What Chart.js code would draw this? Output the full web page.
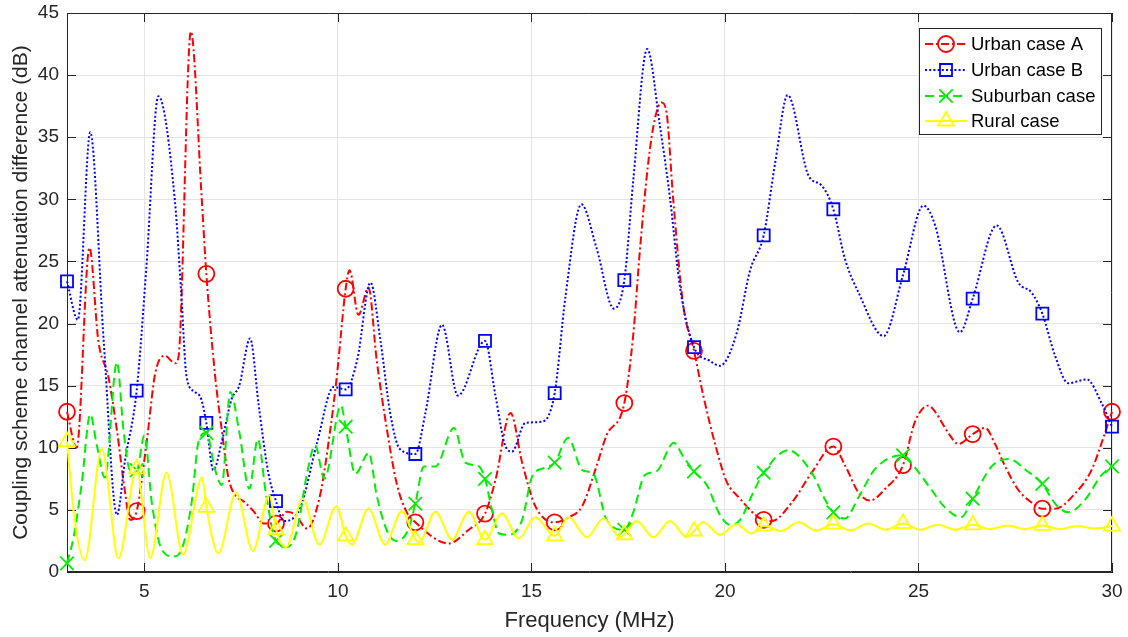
<!DOCTYPE html>
<html><head><meta charset="utf-8">
<script src="https://cdn.jsdelivr.net/npm/chart.js@4.4.1/dist/chart.umd.min.js"></script>
<style>html,body{margin:0;padding:0;background:#fff;}#wrap{width:1128px;height:637px;position:relative;}</style>
</head><body><div id="wrap"><canvas id="c" width="1128" height="637"></canvas></div>
<script>
const markerFreqs = [3,4.8,6.6,8.4,10.2,12,13.8,15.6,17.4,19.2,21,22.8,24.6,26.4,28.2,30];
const xTickLabels = [5,10,15,20,25,30];
const yTickLabels = [0,5,10,15,20,25,30,35,40,45];
const seriesNames = ['Urban case A','Urban case B','Suburban case','Rural case'];

const freqUrbanA = [3,3.25,3.58,3.81,4.07,4.29,4.5,4.63,4.8,5.06,5.28,5.53,5.79,5.88,6.2,6.48,6.6,6.83,7,7.17,7.34,7.56,7.82,8.08,8.4,8.68,8.9,9.2,9.54,9.8,9.97,10.2,10.3,10.53,10.79,11,11.27,11.52,11.78,12,12.86,13.38,13.8,14.07,14.46,14.76,15.1,15.6,15.96,16.31,16.68,16.94,17.4,17.63,17.8,18.02,18.19,18.36,18.49,18.66,18.92,19.2,19.44,19.78,20.04,20.39,20.82,21,21.21,21.73,22.24,22.8,23.1,23.45,23.75,24.14,24.6,24.91,25.26,25.43,25.77,26.03,26.4,26.72,26.98,27.24,27.58,27.92,28.2,28.53,29.04,29.47,29.82,30];
const valUrbanA = [12.9,10,26.1,18.6,15.7,11.4,6.4,4.2,4.9,10.5,16,17.4,16.8,17.3,43.5,30.1,24,15.7,11.4,7.6,6.2,5.7,4.9,3.9,3.9,4.85,4.6,3.5,6.2,11.4,15.7,22.8,24.3,20.7,22.9,17.1,11.4,7.1,4.8,4,2.3,3.4,4.7,7.4,12.8,8.8,5.3,4,4.4,5.3,8.5,11,13.6,19.1,25.8,33,36.5,37.8,37,30.1,21.5,17.8,14.2,9.9,7.3,5.9,4.5,4.2,4.1,5.6,8,10.1,8.6,6.4,5.75,6.7,8.6,12.1,13.4,12.9,11.2,10.3,11.1,11.6,10.3,8.5,6.6,5.6,5.1,5.1,6.3,8.2,11.2,12.9];

const freqUrbanB = [3,3.28,3.6,3.95,4.29,4.5,4.8,5.05,5.36,5.79,5.95,6.09,6.3,6.47,6.6,6.78,7,7.25,7.45,7.73,7.95,8.2,8.4,8.6,9.03,9.46,9.89,10.2,10.5,10.84,11.1,11.35,11.6,12,12.26,12.69,13.1,13.8,14.07,14.33,14.5,14.84,15.28,15.6,15.88,16.29,16.68,17.13,17.4,17.63,17.99,18.32,18.58,18.84,19.2,19.61,19.87,20.3,20.65,21,21.3,21.62,22.16,22.5,22.8,23.1,23.45,24.1,24.6,25.13,25.43,26.07,26.4,27.02,27.58,27.92,28.2,28.53,28.87,29.35,29.73,30];
const valUrbanB = [23.4,20.3,35.4,18.5,4.6,9,14.6,24.5,38.3,29.8,22.5,15.7,14.5,13.9,12,8.2,10.5,13.9,15,18.8,13.5,8,5.7,4.1,5.2,10.4,14.9,14.7,17.1,23.3,18.6,12.8,9.9,9.5,12.8,19.9,14.2,18.6,14.2,10.1,9.7,12,12.1,14.4,22.2,29.6,26.1,21.2,23.5,31.5,42.1,35.9,30.1,22.9,18.1,17,16.6,19.2,24.3,27.1,33,38.4,31.9,31.1,29.2,25.2,22.5,19,23.9,29.5,27.9,19.3,22,27.9,23.3,22.5,20.8,17.4,15.2,15.5,13.6,11.7];

const freqSuburban = [3,3.17,3.38,3.6,3.77,3.98,4.29,4.46,4.63,4.8,5,5.19,5.45,5.75,5.96,6.22,6.4,6.6,6.83,7,7.22,7.45,7.71,7.93,8.14,8.4,8.68,8.94,9.2,9.41,9.65,10.08,10.2,10.45,10.8,11,11.27,11.5,11.8,12,12.22,12.52,13,13.29,13.64,13.8,13.98,14.16,14.41,14.76,15.02,15.36,15.6,15.95,16.31,16.6,16.94,17.4,17.63,17.93,18.23,18.68,18.92,19.2,19.53,19.87,20.13,20.39,20.73,21,21.64,22.24,22.59,22.8,23.1,23.45,23.88,24.6,24.91,25.34,25.68,26.1,26.4,26.89,27.32,27.84,28.2,28.53,28.87,29.3,29.73,30];
const valSuburban = [0.7,2.8,7.1,12.7,10.2,7.6,16.9,11.4,8.2,8.2,11,5.6,1.8,1.25,1.8,5.6,10.5,11.2,8.2,7,14.5,11.3,6.7,10.7,6.3,2.5,2,3.3,7.9,10.2,7.5,13.4,11.7,7.9,9.6,6.2,3.3,2.5,3.3,5.5,8.5,8.5,11.6,8.8,8.5,7.5,5,3.1,3,4.2,7.7,8.4,8.8,10.8,8.2,7.9,4.2,3.4,4.8,7.8,8.1,10.4,9.3,8.1,7,4.6,3.8,4.2,6.4,8,9.8,8,5.8,4.8,4.3,6,8.3,9.4,8.4,6.6,5.2,4.4,5.9,8.5,9.1,8.05,7.1,5.5,4.8,5.8,7.8,8.5];

const freqRural = [3,3.2,3.46,3.9,4.33,4.8,5.15,5.57,6,6.49,6.6,6.91,7.37,7.8,8.23,8.4,8.66,9.09,9.52,9.96,10.2,10.36,10.79,11.22,11.65,12,12.1,12.52,12.95,13.38,13.8,14.24,14.67,15.1,15.6,15.96,16.43,16.86,17.29,17.4,17.72,18.15,18.58,19.01,19.2,19.44,19.87,20.3,20.68,21,21.45,21.9,22.35,22.8,23.25,23.7,24.15,24.6,25.05,25.5,25.95,26.4,26.85,27.3,27.75,28.2,28.65,29.1,29.55,30];
const valRural = [10.5,4.1,0.96,9.9,1.1,8.3,1.1,8,1.4,7.6,5.2,1.5,6.4,1.7,6.2,3.4,2,5.9,2.2,5.3,2.9,2.2,5.1,2.2,4.9,2.6,2.4,4.85,2.6,4.85,2.6,4.7,2.7,4.4,2.9,4.4,2.8,4.3,2.8,3,4.1,2.8,4.1,2.8,3.3,4,3,3.85,3.1,3.7,3.3,4,3.35,3.85,3.35,3.9,3.4,3.9,3.4,3.8,3.4,3.8,3.45,3.75,3.45,3.75,3.45,3.7,3.5,3.7];

const FONT = "'Liberation Sans', Arial, Helvetica, sans-serif";
const TXT = '#262626';

function pts(fs, vs){ return fs.map((f,i)=>({x:f,y:vs[i]})); }
function isMarker(x){ return markerFreqs.some(m=>Math.abs(m-x)<1e-6); }

const styles = [
  {color:'#ff0000', dash:[8,3,2,3], point:'circle', r:8},
  {color:'#0000ff', dash:[2,2.2], point:'rect', r:8.5},
  {color:'#00ee00', dash:[9,5], point:'crossRot', r:9.5},
  {color:'#ffff00', dash:[], point:'triangle', r:9}
];
const seriesData = [pts(freqUrbanA,valUrbanA), pts(freqUrbanB,valUrbanB), pts(freqSuburban,valSuburban), pts(freqRural,valRural)];

const datasets = seriesData.map((d,i)=>({
  label: seriesNames[i],
  data: d,
  borderColor: styles[i].color,
  borderWidth: 2,
  borderDash: styles[i].dash,
  cubicInterpolationMode: 'monotone',
  fill: false,
  clip: false,
  order: 4-i,
  pointStyle: styles[i].point,
  pointRadius: c => (c.raw && isMarker(c.raw.x)) ? styles[i].r : 0,
  pointHoverRadius: c => (c.raw && isMarker(c.raw.x)) ? styles[i].r : 0,
  pointBorderColor: styles[i].color,
  pointBackgroundColor: 'rgba(0,0,0,0)',
  pointBorderWidth: 1.8
}));

const boxPlugin = {
  id: 'box',
  beforeDatasetsDraw(chart){
    const {ctx, chartArea:a, scales} = chart;
    ctx.save();
    ctx.strokeStyle = '#262626';
    ctx.lineWidth = 1;
    ctx.beginPath();
    ctx.rect(a.left+0.5, a.top+0.5, a.right-a.left-1, a.bottom-a.top-1);
    ctx.stroke();
    const tl = 9;
    ctx.beginPath();
    xTickLabels.forEach(v=>{
      const x = Math.round(scales.x.getPixelForValue(v))+0.5;
      ctx.moveTo(x,a.bottom); ctx.lineTo(x,a.bottom-tl);
      ctx.moveTo(x,a.top); ctx.lineTo(x,a.top+tl);
    });
    yTickLabels.forEach(v=>{
      const y = Math.round(scales.y.getPixelForValue(v))+0.5;
      ctx.moveTo(a.left,y); ctx.lineTo(a.left+tl,y);
      ctx.moveTo(a.right,y); ctx.lineTo(a.right-tl,y);
    });
    ctx.stroke();
    ctx.restore();
  },
  afterDraw(chart){
    const ctx = chart.ctx;
    const bx=919, by=28, bw=182, bh=106;
    ctx.save();
    ctx.fillStyle='#fff';
    ctx.fillRect(bx,by,bw,bh);
    ctx.strokeStyle='#262626';
    ctx.lineWidth=1;
    ctx.strokeRect(bx+0.5,by+0.5,bw,bh);
    const rows=[44,70,96,121];
    seriesNames.forEach((name,i)=>{
      const y=rows[i], s=styles[i];
      ctx.save();
      ctx.strokeStyle=s.color; ctx.lineWidth=2; ctx.setLineDash(s.dash);
      ctx.beginPath(); ctx.moveTo(925,y); ctx.lineTo(967,y); ctx.stroke();
      ctx.restore();
      ctx.save();
      ctx.strokeStyle=s.color; ctx.fillStyle='rgba(0,0,0,0)'; ctx.lineWidth=1.8;
      Chart.helpers.drawPoint(ctx,{pointStyle:s.point, radius:s.r, rotation:0, borderWidth:1.8},946,y);
      ctx.restore();
      ctx.fillStyle='#000';
      ctx.font = "18.5px "+FONT;
      ctx.textBaseline='middle';
      ctx.textAlign='left';
      ctx.fillText(name,971,y+1);
    });
    ctx.restore();
  }
};

new Chart(document.getElementById('c'), {
  type: 'line',
  data: { datasets },
  plugins: [boxPlugin],
  options: {
    responsive: false,
    animation: false,
    devicePixelRatio: 1,
    layout: { padding: { top: 13, right: 16, left: 0, bottom: 0 } },
    plugins: { legend: { display: false }, tooltip: { enabled: false } },
    scales: {
      x: {
        type: 'linear', min: 3, max: 30,
        afterBuildTicks: s => { s.ticks = xTickLabels.map(v=>({value:v})); },
        afterFit: s => { s.height = 65; s.paddingLeft = 0; s.paddingRight = 0; },
        ticks: { color: TXT, font: { family: FONT, size: 19 }, padding: 8, maxRotation: 0, autoSkip: false },
        grid: { color: '#e4e4e4', drawTicks: false, lineWidth: 1 },
        border: { display: true, color: '#262626' },
        title: { display: true, text: 'Frequency (MHz)', color: TXT, font: { family: FONT, size: 22 }, padding: { top: 0, bottom: 3 } }
      },
      y: {
        type: 'linear', min: 0, max: 45,
        afterBuildTicks: s => { s.ticks = yTickLabels.map(v=>({value:v})); },
        afterFit: s => { s.width = 67; s.paddingTop = 0; s.paddingBottom = 0; },
        ticks: { color: TXT, font: { family: FONT, size: 19 }, padding: 8 },
        grid: { color: '#e4e4e4', drawTicks: false, lineWidth: 1 },
        border: { display: true, color: '#262626' },
        title: { display: true, text: 'Coupling scheme channel attenuation difference (dB)', color: TXT, font: { family: FONT, size: 21 }, padding: { top: 9, bottom: 0 } }
      }
    }
  }
});
</script></body></html>
